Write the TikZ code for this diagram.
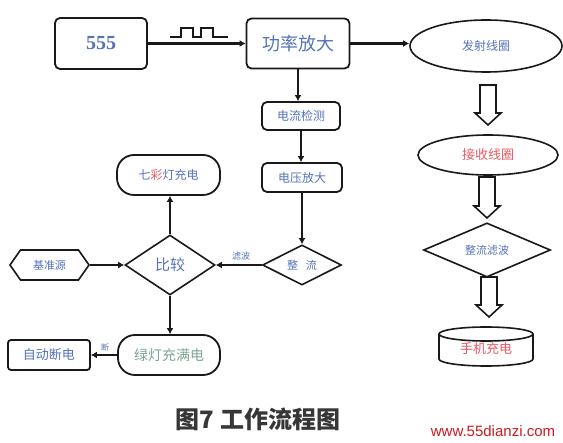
\documentclass[tikz,border=0pt]{standalone}
\usepackage{fontspec}
\setmainfont{Liberation Serif}
\newfontfamily\cjk{Noto Sans CJK SC}
\newfontfamily\wmfont{Liberation Sans}
\usetikzlibrary{shapes.geometric,shapes.symbols,arrows.meta}
\definecolor{tblue}{RGB}{85,115,185}
\definecolor{tred}{RGB}{232,90,100}
\definecolor{tgreen}{RGB}{125,165,145}
\definecolor{edgec}{RGB}{25,25,25}
\definecolor{capc}{RGB}{55,55,55}
\definecolor{wmred}{RGB}{205,25,35}
\newcommand\fsz[1]{\fontsize{#1}{#1}\selectfont}
\newcommand\hollowdown[3]{\draw[hollow] (#1-8,#2) -- (#1-8,#3-12) -- (#1-13,#3-12) -- (#1,#3) -- (#1+13,#3-12) -- (#1+8,#3-12) -- (#1+8,#2) -- cycle;}
\tikzset{
 box/.style={draw=edgec, line width=1.8pt, rounded corners=5pt, inner sep=0pt, text=tblue},
 pill/.style={box, rounded corners=17pt},
 oval/.style={draw=edgec, line width=1.6pt, ellipse, inner sep=0pt},
 dia/.style={draw=edgec, line width=1.6pt, diamond, inner sep=0pt, text=tblue},
 conn/.style={draw=edgec, line width=2.6pt, -{Latex[length=6pt,width=7pt]}},
 hollow/.style={draw=edgec, line width=1.6pt, fill=white, line join=miter},
 lbl/.style={text=tblue, inner sep=0pt},
}
\begin{document}
\begin{tikzpicture}[x=1pt,y=-1pt]
\fill[white] (0,0) rectangle (563,443);
\useasboundingbox (0,0) rectangle (563,443);
% top row
\node[box, minimum width=92, minimum height=51, font=\bfseries\fsz{20}] (osc) at (101,43.5) {555};
\node[box, minimum width=103, minimum height=50, font=\cjk\fsz{18}] (amp) at (298,43.5) {功率放大};
\node[oval, minimum width=152, minimum height=52, text=tblue, font=\cjk\fsz{12}] (tx) at (486,46) {发射线圈};
% square wave
\draw[edgec, line width=1.4pt] (170,37) -- (181,37) -- (181,28) -- (193,28) -- (193,37) -- (201,37) -- (201,28) -- (213,28) -- (213,37) -- (228,37);
% middle column
\node[box, minimum width=78, minimum height=28, font=\cjk\fsz{12}] (cur) at (301,116) {电流检测};
\node[box, minimum width=80, minimum height=29, font=\cjk\fsz{12}] (vamp) at (302,177.5) {电压放大};
\node[dia, minimum width=79, minimum height=40, font=\cjk\fsz{11}] (rect) at (302,265) {整\hspace{8pt}流};
% left part
\node[dia, minimum width=90, minimum height=60, font=\cjk\fsz{15}] (cmp) at (170,265) {比较};
\node[pill, minimum width=103, minimum height=40, font=\cjk\fsz{12}] (rgb) at (168.5,175) {七{\color{tred}彩}灯充电};
\node[signal, signal to=west and east, signal pointer angle=110, draw=edgec, line width=1.6pt, minimum width=79, minimum height=30, inner sep=0pt, font=\cjk\fsz{11}, text=tblue] (ref) at (49.5,265) {基准源};
\node[pill, minimum width=102, minimum height=40, text=tgreen, font=\cjk\fsz{14}] (full) at (169,355) {绿灯充满电};
\node[box, rounded corners=3pt, minimum width=82, minimum height=30, font=\cjk\fsz{13}] (off) at (49,355) {自动断电};
% right column
\node[oval, minimum width=140, minimum height=40, text=tred, font=\cjk\fsz{13}] (rx) at (488,155) {接收线圈};
\node[dia, minimum width=127, minimum height=50, font=\cjk\fsz{11}] (filt) at (487,250) {整流滤波};
\node[minimum width=94, minimum height=39, inner sep=0pt, text=tred, font=\cjk\fsz{13}] (phone) at (486,349) {手机充电};
\draw[edgec, line width=1.6pt] (439,334) -- (439,359) arc[start angle=180, end angle=360, x radius=47pt, y radius=7pt] -- (533,334);
\draw[edgec, line width=1.6pt] (486,334) ellipse[x radius=47pt, y radius=7pt];
% hollow arrows
\hollowdown{488}{85}{125}
\hollowdown{487}{177}{218}
\hollowdown{489}{277}{317}
% connectors
\draw[conn] (osc.east) -- (osc.east -| amp.west);
\draw[conn] (amp.east) -- (amp.east -| tx.west);
\draw[conn] (amp.south) -- (amp.south |- cur.north);
\draw[conn] (cur.south) -- (cur.south |- vamp.north);
\draw[conn] (vamp.south) -- (vamp.south |- rect.north);
\draw[conn] (rect.west) -- (cmp.east);
\draw[conn] (ref.east) -- (cmp.west);
\draw[conn] (cmp.north) -- (cmp.north |- rgb.south);
\draw[conn] (cmp.south) -- (cmp.south |- full.north);
\draw[conn] (full.west) -- (off.east);
\node[lbl, font=\cjk\fsz{9}] (lb1) at (241,256) {滤波};
\node[lbl, font=\cjk\fsz{8}] (lb2) at (105,347) {断};
% caption and watermark
\node[inner sep=0pt, text=capc, font=\cjk\bfseries\fsz{24}] (cap) at (258,419) {图7\hspace{7pt}工作流程图};
\node[inner sep=0pt, text=wmred, font=\wmfont\fsz{15}] (wm) at (493,431) {www.55dianzi.com};
\end{tikzpicture}
\end{document}
